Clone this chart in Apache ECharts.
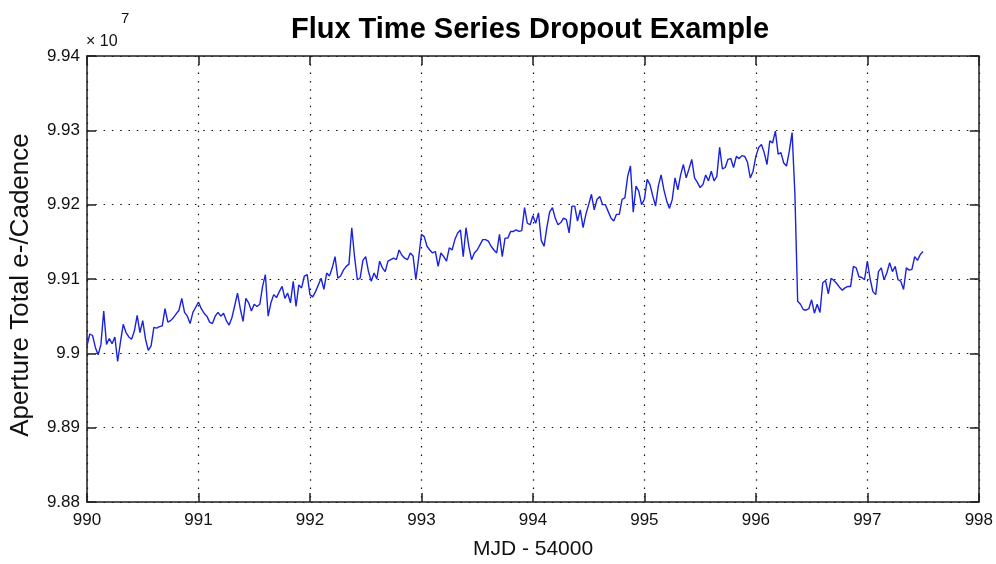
<!DOCTYPE html>
<html><head><meta charset="utf-8">
<script src="https://cdn.jsdelivr.net/npm/echarts@6/dist/echarts.min.js"></script>
<style>html,body{margin:0;padding:0;background:#fff}#c{width:996px;height:564px}</style>
</head><body><div id="c"></div>
<script>
// ---- data (flux in units of 10^7 e-/cadence) ----
const titleText = 'Flux Time Series Dropout Example';
const xAxisTitle = 'MJD - 54000';
const yAxisTitle = 'Aperture Total e-/Cadence';
const scaleNote = '\u00d7 10';
const scaleExp = '7';
const startMJD = 990.0;      // first cadence (MJD - 54000)
const cadenceDays = 0.025;   // sampling interval
const xTicks = [990, 991, 992, 993, 994, 995, 996, 997, 998];
const yTicks = [9.88, 9.89, 9.90, 9.91, 9.92, 9.93, 9.94];
const flux = [
  9.9010, 9.9026, 9.9024, 9.9008, 9.8998, 9.9012, 9.9057, 9.9012, 9.9020, 9.9013,
  9.9022, 9.8989, 9.9015, 9.9039, 9.9028, 9.9022, 9.9019, 9.9030, 9.9051, 9.9028,
  9.9044, 9.9019, 9.9004, 9.9010, 9.9035, 9.9034, 9.9036, 9.9037, 9.9060, 9.9042,
  9.9044, 9.9048, 9.9053, 9.9058, 9.9074, 9.9055, 9.9050, 9.9040, 9.9055, 9.9062,
  9.9069, 9.9060, 9.9054, 9.9050, 9.9042, 9.9040, 9.9050, 9.9055, 9.9050, 9.9054,
  9.9044, 9.9038, 9.9048, 9.9064,
  9.9081, 9.9060, 9.9043, 9.9074, 9.9068, 9.9057, 9.9066, 9.9063, 9.9066, 9.9090,
  9.9106, 9.9050, 9.9068, 9.9079, 9.9075, 9.9083, 9.9090, 9.9074, 9.9081, 9.9068,
  9.9097, 9.9063, 9.9092, 9.9088, 9.9104, 9.9106, 9.9079, 9.9076, 9.9083, 9.9092,
  9.9101, 9.9086, 9.9108, 9.9104, 9.9115, 9.9130, 9.9101, 9.9104, 9.9112, 9.9117,
  9.9120, 9.9169, 9.9130, 9.9099, 9.9101, 9.9125, 9.9130, 9.9110, 9.9097, 9.9108,
  9.9100, 9.9124,
  9.9115, 9.9110, 9.9124, 9.9126, 9.9128, 9.9126, 9.9139, 9.9132, 9.9128, 9.9126,
  9.9135, 9.9131, 9.9099, 9.9128, 9.9160, 9.9157, 9.9144, 9.9139, 9.9135, 9.9137,
  9.9117, 9.9135, 9.9130, 9.9124, 9.9142, 9.9139, 9.9153, 9.9162, 9.9166, 9.9130,
  9.9169, 9.9144, 9.9126, 9.9135, 9.9139, 9.9146, 9.9153, 9.9153, 9.9151, 9.9144,
  9.9139, 9.9135, 9.9160, 9.9130, 9.9155, 9.9155, 9.9164, 9.9164, 9.9166, 9.9164,
  9.9165, 9.9196,
  9.9175, 9.9173, 9.9185, 9.9175, 9.9189, 9.9152, 9.9144, 9.9169, 9.9190, 9.9196,
  9.9182, 9.9173, 9.9176, 9.9182, 9.9180, 9.9162, 9.9198, 9.9198, 9.9178, 9.9193,
  9.9169, 9.9187, 9.9200, 9.9214, 9.9193, 9.9207, 9.9211, 9.9200, 9.9200, 9.9191,
  9.9182, 9.9178, 9.9187, 9.9187, 9.9207, 9.9209, 9.9238, 9.9252, 9.9190, 9.9225,
  9.9218, 9.9200, 9.9207, 9.9234, 9.9227, 9.9212, 9.9198, 9.9225, 9.9240, 9.9220,
  9.9205, 9.9195,
  9.9207, 9.9236, 9.9220, 9.9240, 9.9254, 9.9236, 9.9248, 9.9261, 9.9236, 9.9230,
  9.9223, 9.9227, 9.9240, 9.9232, 9.9245, 9.9232, 9.9238, 9.9277, 9.9248, 9.9250,
  9.9261, 9.9262, 9.9250, 9.9265, 9.9262, 9.9266, 9.9265, 9.9257, 9.9236, 9.9245,
  9.9265, 9.9277, 9.9281, 9.9270, 9.9254, 9.9286, 9.9283, 9.9299, 9.9268, 9.9270,
  9.9256, 9.9252, 9.9272, 9.9297, 9.9215, 9.9070,
  9.9066, 9.9059, 9.9058, 9.9060, 9.9072, 9.9054, 9.9066, 9.9055, 9.9095, 9.9098,
  9.9080, 9.9101, 9.9098, 9.9094, 9.9089, 9.9085, 9.9088, 9.9090, 9.9090, 9.9117,
  9.9115, 9.9103, 9.9102, 9.9099, 9.9124, 9.9100, 9.9083, 9.9079, 9.9110, 9.9115,
  9.9099, 9.9108, 9.9122, 9.9110, 9.9117, 9.9099, 9.9097, 9.9086, 9.9115, 9.9112,
  9.9113, 9.9130, 9.9125, 9.9133, 9.9137
];

// ---- chart ----
const FONT = '"Liberation Sans", Arial, Helvetica, sans-serif';
const AX = '#1e1e1e';
const points = flux.map((v, i) => [startMJD + i * cadenceDays, v]);
const fmtY = v => String(parseFloat(v.toFixed(2)));
const fmtX = v => String(Math.round(v));
const grid = {left: 87, top: 56, width: 892, height: 446};

const chart = echarts.init(document.getElementById('c'), null, {renderer: 'canvas'});
const baseX = {
  type: 'value', min: xTicks[0], max: xTicks[xTicks.length - 1], interval: xTicks[1] - xTicks[0],
  axisLine: {show: true, onZero: false, lineStyle: {color: AX, width: 1.5}},
  axisTick: {show: true, inside: true, length: 9, lineStyle: {color: AX, width: 1.5}}
};
const baseY = {
  type: 'value', min: yTicks[0], max: yTicks[yTicks.length - 1], interval: 0.01,
  axisLine: {show: true, onZero: false, lineStyle: {color: AX, width: 1.5}},
  axisTick: {show: true, inside: true, length: 9, lineStyle: {color: AX, width: 1.5}}
};
const dotted = {show: true, lineStyle: {color: '#111', width: 1.2, type: [1.5, 6.8]}};
chart.setOption({
  animation: false,
  backgroundColor: '#ffffff',
  grid: grid,
  xAxis: [
    Object.assign({}, baseX, {
      position: 'bottom',
      axisLabel: {show: true, margin: 10, fontSize: 17, color: '#111', fontFamily: FONT, formatter: fmtX},
      splitLine: dotted
    }),
    Object.assign({}, baseX, {position: 'top', axisLabel: {show: false}, splitLine: {show: false}})
  ],
  yAxis: [
    Object.assign({}, baseY, {
      position: 'left',
      axisLabel: {show: true, margin: 7, fontSize: 17, color: '#111', fontFamily: FONT, formatter: fmtY},
      splitLine: dotted
    }),
    Object.assign({}, baseY, {position: 'right', axisLabel: {show: false}, splitLine: {show: false}})
  ],
  series: [{
    type: 'line', xAxisIndex: 0, yAxisIndex: 0, data: points,
    showSymbol: false, symbol: 'none', smooth: false,
    lineStyle: {color: '#1a22dd', width: 1.4}
  }],
  graphic: [
    {type: 'text', x: 530, y: 30, style: {text: titleText, font: 'bold 29px ' + FONT, fill: '#000', textAlign: 'center', textVerticalAlign: 'middle'}},
    {type: 'text', x: 533, y: 549, style: {text: xAxisTitle, font: '21px ' + FONT, fill: '#111', textAlign: 'center', textVerticalAlign: 'middle'}},
    {type: 'text', x: 21, y: 285, rotation: Math.PI / 2, style: {text: yAxisTitle, font: '26px ' + FONT, fill: '#111', textAlign: 'center', textVerticalAlign: 'middle'}},
    {type: 'text', x: 86, y: 42, style: {text: scaleNote, font: '16px ' + FONT, fill: '#111', textAlign: 'left', textVerticalAlign: 'middle'}},
    {type: 'text', x: 121, y: 19, style: {text: scaleExp, font: '15px ' + FONT, fill: '#111', textAlign: 'left', textVerticalAlign: 'middle'}}
  ]
});
</script>
</body></html>
